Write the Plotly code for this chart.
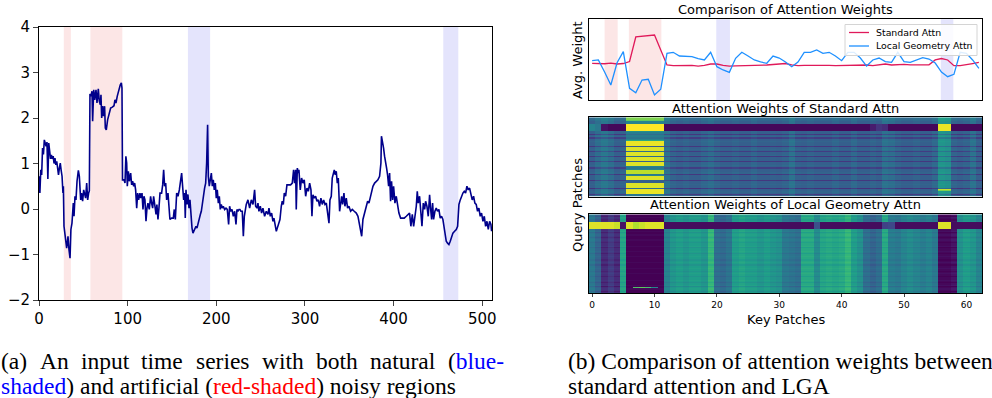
import plotly.graph_objects as go

W, H = 992, 398

# ---------------- (a) time series ----------------
ts_x = [0, 1, 2, 3, 4, 5, 6, 7, 8, 9, 10, 11, 12, 13, 14, 15, 16, 17, 18, 19, 20, 21, 22, 23, 24, 25, 26, 27, 27.5,
        28.2, 29.7, 31.2, 32.2, 32.7, 33.8, 35, 36, 37.2, 38.7, 39.5, 40.6, 41.7, 42.9, 44.4, 45.5, 47, 48, 49.2,
        50.4, 51.5, 52.6, 53.8, 54.9, 56, 56.8, 57.5, 58.6, 59.8, 60.5, 61.7, 62.8, 64.3, 65.4, 66.9, 68, 69.2,
        69.9, 70.7, 71.8, 72.9, 74, 74.8, 75.9, 77.4, 79.3, 80.8, 82.7, 84.6, 85.7, 86.8, 88.3, 89.5, 90.6, 91.7,
        92.9, 93.6, 94.2, 95.9, 97, 98, 98.9, 99.6, 100.8, 101.9, 103.4, 104.5, 105.6, 106.8, 107.9, 109, 110.2,
        111.3, 112.4, 113.9, 115, 116.2, 117.3, 118.4, 119.5, 120.7, 121.8, 122.9, 124.4, 125.9, 127, 128.2,
        129.3, 130.8, 132, 133, 134.2, 135.3, 136.5, 138.3, 139.5, 140.6, 141.7, 142.9, 144, 145.5, 146.6, 147.7,
        149.6, 151.5, 152.6, 153.8, 155.3, 156.8, 158.3, 159.8, 160.9, 162, 163.2, 164.3, 165, 165.8, 166.9, 168,
        169.2, 170.3, 171.4, 172.6, 173.7, 174.8, 175.9, 177.1, 178.2, 179.7, 180.8, 182, 183.1, 184.2, 185.3,
        186.8, 188, 189.1, 190.2, 191, 192.1, 193.2, 194.4, 195.5, 196.6, 197.7, 198.9, 200, 201.1, 202.3, 203.4,
        204.5, 205.6, 206.8, 207.9, 209.4, 210.9, 212.4, 213.9, 215, 216.2, 217.7, 219.2, 220.7, 222.2, 223.3,
        224.4, 225.6, 226.7, 227.8, 229.3, 230.5, 231.6, 233.8, 235.7, 237.6, 239.5, 241.4, 243.2, 244.4, 245.9,
        247, 248.1, 249.6, 251.1, 252.6, 254.5, 256.4, 258.3, 259.4, 260.9, 262.4, 263.9, 265, 266.2, 267.7,
        268.8, 270.3, 271.8, 273.3, 274.4, 275.6, 276.7, 278.2, 279.7, 282, 283.8, 285.7, 287.2, 288.3, 289.5,
        290.2, 291.4, 292.5, 293.2, 294.7, 296.2, 297.7, 299.2, 300.8, 302.3, 303.8, 305.3, 306.8, 307.9, 309,
        310.5, 312, 313.5, 315, 316.5, 318, 319.5, 321.1, 322.6, 324.1, 325.6, 327.1, 328.2, 329.7, 330.8, 332,
        333.1, 334.2, 335.3, 336.5, 337.6, 339.1, 340.2, 341.4, 342.5, 344, 345.1, 346.6, 348.1, 349.6, 351.5,
        353.4, 355.6, 357.9, 359.8, 361.7, 364, 365.4, 367.3, 369.2, 370.7, 372.2, 373.7, 375.2, 376.7, 378.6,
        380.5, 382.3, 384.2, 385.7, 386.3, 387.2, 388.7, 389.8, 391, 392.1, 393.2, 394.4, 395.5, 396.6, 397.7,
        398.9, 400, 401.5, 403, 404.5, 406, 407.9, 409.8, 412, 414.3, 416.2, 418, 419.5, 421.1, 422.6, 424.1,
        425.6, 426.7, 427.8, 429.3, 430.8, 432, 433.5, 435, 436.1, 437.6, 439.1, 440.6, 441.7, 442.9, 444, 445.1,
        446.6, 448.1, 449.6, 451.1, 452.6, 454.1, 455.6, 456.8, 458.3, 459.4, 460.9, 462.4, 463.9, 465.4, 466.9,
        468.8, 470.7, 472.2, 473.7, 475.2, 476.7, 478.2, 479.7, 481.2, 482.7, 484.2, 485.7, 487.2, 488.7, 490.2,
        491.7, 493.2, 494.7, 496.2, 497.7, 499.2, 500.8, 502.3, 503.8, 505.3, 506.8, 508.3, 509.8, 510.5]
ts_y = [0.72, 0.35, 0.86, 0.75, 1.34, 1.2, 1.52, 1.4, 1.38, 1.47, 0.66, 1.45, 1.16, 1.1, 1.19, 1.1, 1.16, 1.0,
        1.12, 0.97, 1.05, 0.9, 0.75, 0.9, 1.01, 0.85, 0.72, 0.35, 0.5,
        -0.38, -0.6, -0.86, -0.7, -0.6, -0.89, -1.08, -0.45, -0.31, 0.13, -0.16, 0.28, 0.2, 0.61, 0.85, 0.72, 0.2,
        0.35, 0.17, 0.42, 0.28, 0.24, 0.57, 0.2, 0.35, 0.4, 2.53, 2.48, 2.59, 1.93, 2.62, 2.4, 2.62, 2.33, 2.64,
        2.37, 2.29, 2.51, 2.0, 2.26, 2.04, 2.26, 1.78, 1.74, 1.96, 2.11, 2.22, 2.24, 2.27, 2.4, 2.33, 2.48, 2.59,
        2.66, 2.73, 2.77, 2.66, 0.64, 0.64, 0.57, 1.16, 1.01, 0.5, 0.83, 0.61, 0.79, 0.53, 0.61, 0.5, 0.57, 0.42,
        0.02, 0.35, 0.2, 0.35, 0.24, 0.35, -0.01, 0.28, 0.2, -0.27, 0.02, 0.13, -0.01, 0.28, 0.13, 0.02, 0.28,
        -0.01, -0.12, 0.1, -0.23, 0.02, 0.35, 0.35, 0.53, 0.86, 0.5, 0.57, 0.2, 0.35, -0.05, -0.23, -0.2, -0.2,
        -0.01, -0.23, 0.35, 0.28, 0.42, 0.64, 0.79, 0.5, 0.2, 0.35, -0.2, 0.42, 0.1, 0.32, 0.02, 0.2, -0.16,
        -0.42, -0.53, -0.49, -0.45, -0.38, -0.42, -0.27, -0.2, -0.12, -0.05, 0.13, 0.32, 0.46, 0.57, 1.01, 1.85,
        0.72, 0.5, 0.64, 0.79, 0.5, 0.64, 0.42, 0.57, 0.24, 0.42, 0.13, 0.28, -0.01, 0.1, 0.02, 0.06, -0.01, 0.02,
        -0.01, -0.34, 0.06, -0.05, -0.01, -0.16, -0.05, -0.34, -0.01, -0.05, -0.01, -0.01, -0.05, -0.05, -0.6,
        -0.16, 0.1, 0.2, 0.02, 0.2, 0.1, 0.42, 0.06, 0.02, 0.13, -0.05, 0.06, -0.09, 0.02, -0.16, -0.05, -0.12,
        0.02, -0.16, -0.09, -0.27, -0.2, -0.34, -0.49, -0.42, -0.31, -0.23, 0.06, 0.17, 0.1, 0.35, 0.28, 0.53,
        0.53, 0.53, 0.57, 0.86, 0.57, 0.86, -0.01, 0.9, 0.79, 0.86, 0.42, 0.68, 0.57, 0.64, 0.28, 0.46, 0.39,
        0.57, 0.42, -0.16, 0.31, 0.24, 0.28, 0.17, 0.2, 0.06, 0.24, 0.1, 0.2, 0.1, 0.13, -0.05, -0.31, 0.2, 0.28,
        0.68, 0.79, 0.86, 0.75, 0.83, 0.57, 0.68, -0.05, 0.13, 0.28, 0.1, 0.35, 0.06, 0.24, 0.02, 0.06, -0.05,
        -0.01, -0.05, -0.09, -0.16, -0.34, -0.6, -0.23, -0.09, 0.02, 0.17, 0.13, 0.24, 0.39, 0.5, 0.57, 0.61,
        0.64, 0.72, 1.01, 1.6, 1.45, 1.34, 1.16, 1.05, 0.9, 0.75, 0.5, 0.79, 0.17, 0.61, 0.2, 0.5, 0.13, 0.28,
        0.1, -0.09, -0.2, -0.2, -0.2, -0.16, -0.12, -0.09, -0.38, -0.12, -0.38, -0.16, 0.06, 0.39, 0.13, 0.28,
        -0.23, -0.38, 0.13, -0.01, 0.17, 0.06, -0.16, 0.31, 0.02, -0.23, 0.13, -0.23, -0.05, 0.02, -0.05, -0.01,
        -0.2, -0.16, -0.23, -0.42, -0.56, -0.71, -0.75, -0.78, -0.71, -0.6, -0.53, -0.49, -0.45, -0.38, 0.1, 0.2,
        0.28, 0.35, 0.39, 0.35, 0.5, 0.42, 0.46, 0.31, 0.2, 0.28, 0.13, 0.1, -0.05, 0.02, -0.16, -0.09, -0.27,
        -0.16, -0.38, -0.27, -0.45, -0.27, -0.34, -0.49]
ts_red_regions = [(28, 36), (58, 94)]
ts_blue_regions = [(168, 193), (456, 473)]
ts_xticks = [0, 100, 200, 300, 400, 500]
ts_yticks = [-2, -1, 0, 1, 2, 3, 4]

# ---------------- (b) attention ----------------
patches = list(range(63))
series_names = ["Standard Attn", "Local Geometry Attn"]
series_colors = ["#e0195a", "#1e90ff"]
std_avg = [0.455, 0.452, 0.449, 0.458, 0.446, 0.452, 0.477, 0.781, 0.787, 0.793, 0.805, 0.620, 0.434, 0.425,
           0.428, 0.425, 0.430, 0.421, 0.428, 0.446, 0.446, 0.428, 0.421, 0.424, 0.425, 0.428, 0.434, 0.436,
           0.434, 0.440, 0.442, 0.452, 0.434, 0.425, 0.428, 0.430, 0.428, 0.434, 0.430, 0.425, 0.428, 0.434,
           0.430, 0.436, 0.434, 0.425, 0.440, 0.446, 0.434, 0.440, 0.442, 0.436, 0.434, 0.434, 0.436, 0.496,
           0.514, 0.496, 0.425, 0.425, 0.434, 0.452, 0.467]
lga_avg = [0.487, 0.496, 0.347, 0.186, 0.462, 0.599, 0.145, 0.090, 0.248, 0.257, 0.062, 0.133, 0.579, 0.591,
           0.545, 0.542, 0.537, 0.514, 0.496, 0.591, 0.413, 0.372, 0.343, 0.517, 0.591, 0.545, 0.496, 0.471,
           0.455, 0.545, 0.520, 0.471, 0.413, 0.471, 0.591, 0.591, 0.620, 0.579, 0.591, 0.545, 0.487, 0.591,
           0.591, 0.520, 0.421, 0.496, 0.520, 0.475, 0.467, 0.591, 0.475, 0.467, 0.496, 0.524, 0.508, 0.458,
           0.347, 0.289, 0.318, 0.591, 0.579, 0.496, 0.393]
patch_red_regions = [(2.0, 4.1), (5.9, 11.1)]
patch_blue_regions = [(19.9, 22.1), (55.9, 57.9)]
patch_xticks = [0, 10, 20, 30, 40, 50, 60]

# Standard-attention heat map: column profile, row stripes, noisy-block rows, dark band
std_col = [0.30, 0.36, 0.40, 0.36, 0.30, 0.32, 0.45, 0.45, 0.45, 0.45, 0.45, 0.45, 0.38, 0.32, 0.30, 0.32,
           0.30, 0.30, 0.33, 0.36, 0.32, 0.30, 0.30, 0.32, 0.30, 0.30, 0.33, 0.30, 0.30, 0.31, 0.30, 0.32,
           0.38, 0.31, 0.30, 0.32, 0.30, 0.30, 0.30, 0.33, 0.30, 0.30, 0.34, 0.30, 0.30, 0.32, 0.30, 0.38,
           0.36, 0.32, 0.30, 0.30, 0.32, 0.30, 0.30, 0.34, 0.52, 0.50, 0.32, 0.30, 0.32, 0.38, 0.30]
std_row = [0.04, 0.04, 0.03, 0.0, 0.0, 0, 0, 0, 0, 0, 0, 0.0, 0.0, -0.14, 0.0, 0.02, -0.12, 0.0, 0.0, 0.02,
           0.0, 0.0, 0.0, -0.14, 0.0, 0.02, 0.0, -0.12, 0.0, 0.0, 0.02, -0.14, 0.0, 0.0, 0.0, -0.14, 0.0, 0.0,
           0.02, 0.0, -0.12, 0.0, 0.0, 0.0, 0.02, -0.14, 0.0, 0.0, 0.0, 0.0, -0.14, 0.0, 0.0, 0.02, 0.0, 0.0,
           -0.16, 0.0, 0.0, 0.02, 0.0, -0.14, 0.0]
std_block = [0.80, 0.80, 0.75, 0.45, 0.45, 1, 1, 1, 1, 1, 1, 0.5, 0.42, 0.35, 0.42, 0.42, 0.38, 0.45, 0.6,
             0.97, 0.97, 0.97, 0.97, 0.3, 0.95, 0.95, 0.95, 0.35, 0.95, 0.95, 0.95, 0.35, 0.95, 0.95, 0.95, 0.3,
             0.95, 0.95, 0.95, 0.45, 0.40, 0.45, 0.9, 0.9, 0.9, 0.4, 0.45, 0.95, 0.95, 0.95, 0.3, 0.3, 0.95, 0.95,
             0.95, 0.95, 0.35, 0.97, 0.97, 0.97, 0.97, 0.4, 0.4]
std_band = [0.45, 0.40, 0.05, 0.02, 0.02, 0.02, 1.0, 1.0, 1.0, 1.0, 1.0, 1.0, 0.02, 0.02, 0.02, 0.02, 0.02,
            0.02, 0.02, 0.02, 0.02, 0.02, 0.02, 0.02, 0.02, 0.02, 0.02, 0.02, 0.02, 0.02, 0.02, 0.02, 0.02,
            0.02, 0.02, 0.02, 0.02, 0.02, 0.02, 0.02, 0.02, 0.02, 0.02, 0.02, 0.02, 0.08, 0.15, 0.12, 0.02,
            0.02, 0.02, 0.02, 0.02, 0.02, 0.02, 0.02, 0.97, 0.97, 0.02, 0.02, 0.02, 0.02, 0.02]
std_band_rows = [5, 6, 7, 8, 9, 10]
std_block_cols = [6, 7, 8, 9, 10, 11]
std_hot = [(57, 56, 0.92), (57, 57, 0.92), (58, 56, 0.8), (58, 57, 0.8)]

# LGA heat map
lga_col = [0.40, 0.32, 0.12, 0.18, 0.12, 0.58, 0.0, 0.0, 0.0, 0.0, 0.0, 0.0, 0.45, 0.52, 0.55, 0.52, 0.55,
           0.55, 0.52, 0.66, 0.36, 0.34, 0.38, 0.55, 0.58, 0.55, 0.55, 0.52, 0.55, 0.52, 0.50, 0.40, 0.38,
           0.36, 0.60, 0.60, 0.48, 0.58, 0.60, 0.58, 0.60, 0.66, 0.55, 0.50, 0.36, 0.32, 0.36, 0.60, 0.42,
           0.40, 0.45, 0.48, 0.45, 0.42, 0.45, 0.40, 0.02, 0.02, 0.05, 0.50, 0.55, 0.52, 0.45]
lga_row = [0.0, -0.04, 0.02, 0.0, -0.03, 0.0, 0, 0, 0, 0, 0, 0, 0.0, 0.02, -0.04, 0.0, 0.02, 0.0, -0.04, 0.0,
           0.02, 0.0, -0.03, 0.0, 0.0, 0.02, -0.04, 0.0, 0.0, 0.02, 0.0, -0.04, 0.0, 0.02, 0.0, 0.0, -0.03,
           0.0, 0.02, 0.0, -0.04, 0.0, 0.0, 0.02, 0.0, -0.03, 0.0, 0.02, 0.0, -0.04, 0.0, 0.0, 0.02, 0.0,
           -0.04, 0.0, 0.02, -0.06, 0.0, 0.02, 0.0, -0.05, 0.0]
lga_band = [0.95, 0.95, 0.95, 0.95, 0.92, 0.05, 0.95, 0.88, 0.92, 0.95, 0.95, 0.95, 0.03, 0.03, 0.03, 0.03,
            0.03, 0.03, 0.03, 0.03, 0.03, 0.03, 0.03, 0.03, 0.03, 0.03, 0.03, 0.03, 0.03, 0.03, 0.03, 0.03,
            0.03, 0.03, 0.03, 0.03, 0.25, 0.03, 0.03, 0.03, 0.03, 0.03, 0.03, 0.03, 0.03, 0.03, 0.03, 0.2,
            0.22, 0.03, 0.03, 0.03, 0.03, 0.03, 0.03, 0.03, 0.95, 0.95, 0.03, 0.03, 0.03, 0.03, 0.03]
lga_band_rows = [6, 7, 8, 9, 10, 11]
lga_hot = [(58, 7, 0.72), (58, 8, 0.75), (58, 9, 0.7), (58, 10, 0.45)]


def build_matrix(col, row, band, band_rows, hot, block=None, block_cols=()):
    z = []
    for r in range(len(row)):
        if r in band_rows:
            line = list(band)
        else:
            line = [min(1.0, max(0.0, c + row[r])) for c in col]
            if block is not None:
                for c in block_cols:
                    line[c] = block[r]
        z.append(line)
    for r, c, v in hot:
        z[r][c] = v
    return z


std_z = build_matrix(std_col, std_row, std_band, std_band_rows, std_hot, std_block, std_block_cols)
lga_z = build_matrix(lga_col, lga_row, lga_band, lga_band_rows, lga_hot)

# ---------------- figure ----------------
SANS = "DejaVu Sans"
SERIF = "Liberation Serif"


def px(x):
    return x / W


def py(y):
    return 1 - y / H


fig = go.Figure()
fig.add_trace(go.Scatter(x=ts_x, y=ts_y, mode="lines", line=dict(color="#00008b", width=1.6),
                         showlegend=False, xaxis="x", yaxis="y"))
for vals, name, color in zip([std_avg, lga_avg], series_names, series_colors):
    fig.add_trace(go.Scatter(x=patches, y=vals, mode="lines", name=name, showlegend=False,
                             line=dict(color=color, width=1.3), xaxis="x2", yaxis="y2"))
fig.add_trace(go.Heatmap(z=std_z, x=patches, y=list(range(len(std_z))), colorscale="Viridis", zmin=0, zmax=1,
                         showscale=False, xaxis="x3", yaxis="y3"))
fig.add_trace(go.Heatmap(z=lga_z, x=patches, y=list(range(len(lga_z))), colorscale="Viridis", zmin=0, zmax=1,
                         showscale=False, xaxis="x4", yaxis="y4"))

RED_FILL = "rgba(250,210,210,0.55)"
BLUE_FILL = "rgba(205,205,250,0.55)"
shapes = []
for a, b in ts_red_regions:
    shapes.append(dict(type="rect", xref="x", yref="y domain", x0=a, x1=b, y0=0, y1=1, fillcolor=RED_FILL,
                       line_width=0, layer="below"))
for a, b in ts_blue_regions:
    shapes.append(dict(type="rect", xref="x", yref="y domain", x0=a, x1=b, y0=0, y1=1, fillcolor=BLUE_FILL,
                       line_width=0, layer="below"))
for a, b in patch_red_regions:
    shapes.append(dict(type="rect", xref="x2", yref="y2 domain", x0=a, x1=b, y0=0, y1=1, fillcolor=RED_FILL,
                       line_width=0, layer="below"))
for a, b in patch_blue_regions:
    shapes.append(dict(type="rect", xref="x2", yref="y2 domain", x0=a, x1=b, y0=0, y1=1, fillcolor=BLUE_FILL,
                       line_width=0, layer="below"))

# legend box (drawn in the upper-right corner of the line panel)
shapes.append(dict(type="rect", xref="paper", yref="paper", x0=px(845), x1=px(977), y0=py(55.5), y1=py(24.5),
                   fillcolor="rgba(255,255,255,0.85)", line=dict(color="#d4d4d4", width=1), layer="above"))
for i, color in enumerate(series_colors):
    yy = py(32.5 + 13.5 * i)
    shapes.append(dict(type="line", xref="paper", yref="paper", x0=px(849), x1=px(869), y0=yy, y1=yy,
                       line=dict(color=color, width=1.3), layer="above"))

frame = dict(showline=True, mirror=True, linecolor="black", linewidth=1, showgrid=False, zeroline=False,
             automargin=False)
right_dom = [px(589), px(982)]

fig.update_layout(
    width=W, height=H, margin=dict(l=0, r=0, t=0, b=0, autoexpand=False), plot_bgcolor="white",
    paper_bgcolor="white", font=dict(family=SANS, color="black"), showlegend=False,
    shapes=shapes,
    xaxis=dict(domain=[px(39), px(492)], range=[0, 511], tickvals=ts_xticks, ticks="outside", ticklen=5,
               tickfont=dict(size=15), anchor="y", **frame),
    yaxis=dict(domain=[py(300), py(27)], range=[-2, 4], tickvals=ts_yticks, ticks="outside", ticklen=5,
               tickfont=dict(size=15), anchor="x", **frame),
    xaxis2=dict(domain=right_dom, range=[-0.5, 62.5], showticklabels=False, ticks="", anchor="y2", **frame),
    yaxis2=dict(domain=[py(100), py(19.3)], range=[0, 1], showticklabels=False, ticks="", anchor="x2", **frame),
    xaxis3=dict(domain=right_dom, range=[-0.5, 62.5], showticklabels=False, ticks="", anchor="y3", **frame),
    yaxis3=dict(domain=[py(196.7), py(117.3)], range=[62.5, -0.5], showticklabels=False, ticks="", anchor="x3",
                **frame),
    xaxis4=dict(domain=right_dom, range=[-0.5, 62.5], tickvals=patch_xticks, ticks="outside", ticklen=3,
                tickfont=dict(size=9), anchor="y4", **frame),
    yaxis4=dict(domain=[py(293.3), py(214.3)], range=[62.5, -0.5], showticklabels=False, ticks="", anchor="x4",
                **frame),
)

ann = []


def label(text, x, y, size, angle=0, family=SANS, xanchor="center", color="black"):
    ann.append(dict(text=text, x=px(x), y=py(y), xref="paper", yref="paper", showarrow=False,
                    font=dict(size=size, family=family, color=color), textangle=angle, xanchor=xanchor,
                    yanchor="middle", borderpad=0))


label("Comparison of Attention Weights", 785.5, 9, 13)
label("Attention Weights of Standard Attn", 785.5, 108, 13)
label("Attention Weights of Local Geometry Attn", 785.5, 205, 13)
label("Avg. Weight", 578, 60, 13, angle=-90)
label("Query Patches", 578, 205, 13, angle=-90)
label("Key Patches", 785.5, 319, 13)
for i, name in enumerate(series_names):
    label(name, 875, 32.5 + 13.5 * i, 9.4, xanchor="left")

cap_a1 = [("(a)", 0), ("An", 38.5), ("input", 79.5), ("time", 140.3), ("series", 194.5), ("with", 260.5),
          ("both", 314.8), ("natural", 369), ("(<span style='color:#0000ff'>blue-</span>", 446.8)]
for word, x in cap_a1:
    label(word, x, 360.5, 23.5, family=SERIF, xanchor="left")
label("<span style='color:#0000ff'>shaded</span>) and artificial (<span style='color:#ff0000'>red-shaded</span>) "
      "noisy regions", 0, 385.5, 23.5, family=SERIF, xanchor="left")
label("(b) Comparison of attention weights between", 566.7, 360.5, 23.5, family=SERIF, xanchor="left")
label("standard attention and LGA", 566.7, 385.5, 23.5, family=SERIF, xanchor="left")

fig.update_layout(annotations=ann)
fig.write_html("out.html")
